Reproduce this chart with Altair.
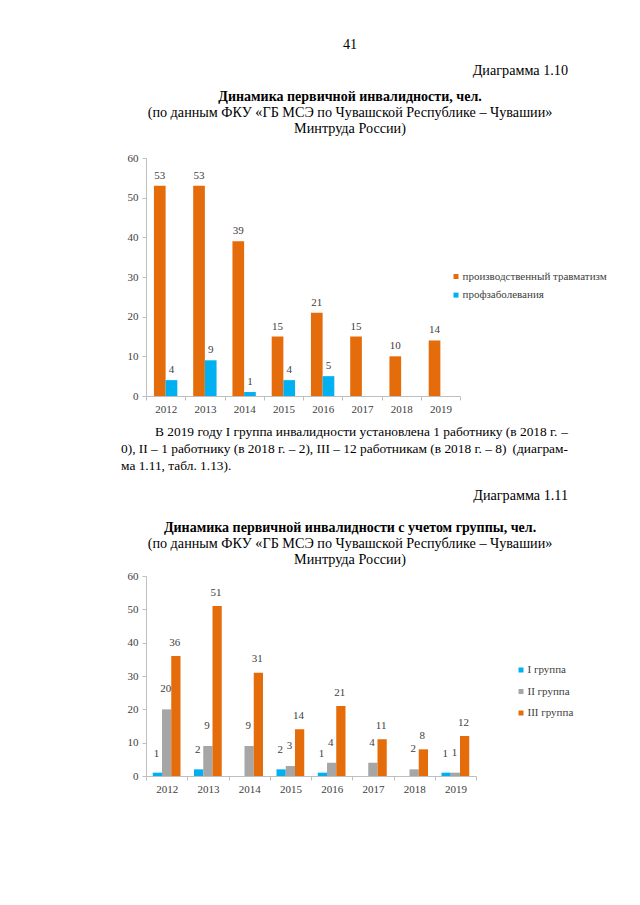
import altair as alt
import pandas as pd

# ---------------- data ----------------
years = ["2012", "2013", "2014", "2015", "2016", "2017", "2018", "2019"]

series1 = ["производственный травматизм", "профзаболевания"]
injury = [53, 53, 39, 15, 21, 15, 10, 14]
occupational = [4, 9, 1, 4, 5, None, None, None]

series2 = ["I группа", "II группа", "III группа"]
group1 = [1, 2, None, 2, 1, None, None, 1]
group2 = [20, 9, 9, 3, 4, 4, 2, 1]
group3 = [36, 51, 31, 14, 21, 11, 8, 12]

y_ticks = [0, 10, 20, 30, 40, 50, 60]

colors1 = ["#E46C0A", "#00B0F0"]
colors2 = ["#00B0F0", "#A6A6A6", "#E46C0A"]

rows1 = []
for yr, a, b in zip(years, injury, occupational):
    rows1.append({"year": yr, "s1": series1[0], "v1": a})
    rows1.append({"year": yr, "s1": series1[1], "v1": b})
df1 = pd.DataFrame(rows1)

rows2 = []
for yr, a, b, c in zip(years, group1, group2, group3):
    rows2.append({"year": yr, "s2": series2[0], "v2": a})
    rows2.append({"year": yr, "s2": series2[1], "v2": b})
    rows2.append({"year": yr, "s2": series2[2], "v2": c})
df2 = pd.DataFrame(rows2)

FONT = "Liberation Serif"
AX = "#BFBFBF"
TXT = "#404040"
PAGE_FS = 14.2
PARA_FS = 13.4


def page_text(s, x, y, bold=False, align="center", size=PAGE_FS):
    return alt.Chart(alt.Data(values=[{}])).mark_text(
        text=s, font=FONT, fontSize=size,
        fontWeight="bold" if bold else "normal",
        align=align, baseline="middle", color="black",
    ).encode(x=alt.value(x), y=alt.value(y))


def x_axis():
    return alt.Axis(labelAngle=0, tickBand="extent", tickSize=4, labelPadding=3,
                    domainColor=AX, tickColor=AX, labelFont=FONT, labelFontSize=11,
                    labelColor=TXT)


def y_axis():
    return alt.Axis(values=y_ticks, grid=False, tickSize=4, labelPadding=4,
                    domainColor=AX, tickColor=AX, labelFont=FONT, labelFontSize=11,
                    labelColor=TXT)


# ---------------- chart 1 ----------------
x1 = alt.X("year:N", sort=years, title=None,
           scale=alt.Scale(paddingInner=0, paddingOuter=0), axis=x_axis())
y1 = alt.Y("v1:Q", title=None, scale=alt.Scale(domain=[0, 60]), axis=y_axis())
xo1 = alt.XOffset("s1:N", sort=series1,
                  scale=alt.Scale(domain=series1, paddingOuter=0.68, paddingInner=0))
c1 = alt.Color("s1:N", sort=series1,
               scale=alt.Scale(domain=series1, range=colors1),
               legend=alt.Legend(title=None, orient="none", legendX=304.5, legendY=113,
                                 symbolType="square", symbolSize=25, symbolStrokeWidth=0,
                                 labelFont=FONT, labelFontSize=11, labelColor=TXT,
                                 rowPadding=6.6, padding=0, labelOffset=1))

base1 = alt.Chart(df1).encode(x=x1, xOffset=xo1, y=y1)
bars1 = base1.mark_bar().encode(color=c1)
labels1 = base1.mark_text(dy=-10, baseline="middle", font=FONT, fontSize=11,
                          color=TXT).encode(text=alt.Text("v1:Q", format="d"))

RIGHT = 422   # right edge of the page text column, relative to plot origin
texts1 = [
    page_text("41", 204, -113),
    page_text("Диаграмма 1.10", RIGHT, -87, align="right"),
    page_text("Динамика первичной инвалидности, чел.", 204, -61, bold=True, size=14),
    page_text("(по данным ФКУ «ГБ МСЭ по Чувашской Республике – Чувашии»", 204, -45),
    page_text("Минтруда России)", 204, -29),
    # justified paragraph: body of each full line left-aligned, last word right-aligned
    page_text("В 2019 году I группа инвалидности установлена 1 работнику (в 2018 г.",
              9, 274, align="left", size=PARA_FS),
    page_text("–", RIGHT, 274, align="right", size=PARA_FS),
    page_text("0), II – 1 работнику (в 2018 г. – 2), III – 12 работникам (в 2018 г. – 8)",
              -25, 291, align="left", size=PARA_FS),
    page_text("(диаграм-", RIGHT, 291, align="right", size=PARA_FS),
    page_text("ма 1.11, табл. 1.13).", -25, 308, align="left", size=PARA_FS),
]

chart1 = alt.layer(bars1, labels1, *texts1).properties(width=314, height=238)

# ---------------- chart 2 ----------------
x2 = alt.X("year:N", sort=years, title=None,
           scale=alt.Scale(paddingInner=0, paddingOuter=0), axis=x_axis())
y2 = alt.Y("v2:Q", title=None, scale=alt.Scale(domain=[0, 60]), axis=y_axis())
xo2 = alt.XOffset("s2:N", sort=series2,
                  scale=alt.Scale(domain=series2, paddingOuter=0.73, paddingInner=0))
c2 = alt.Color("s2:N", sort=series2,
               scale=alt.Scale(domain=series2, range=colors2),
               legend=alt.Legend(title=None, orient="none", legendX=369.5, legendY=88.5,
                                 symbolType="square", symbolSize=25, symbolStrokeWidth=0,
                                 labelFont=FONT, labelFontSize=11, labelColor=TXT,
                                 rowPadding=9.5, padding=0, labelOffset=1))

base2 = alt.Chart(df2).encode(x=x2, xOffset=xo2, y=y2)
bars2 = base2.mark_bar().encode(color=c2)
label_dy = {series2[0]: -19, series2[1]: -20, series2[2]: -13.5}
labels2 = [
    base2.transform_filter(alt.datum.s2 == s).mark_text(
        dy=d, dx=-1, baseline="middle", font=FONT, fontSize=11, color=TXT
    ).encode(text=alt.Text("v2:Q", format="d"))
    for s, d in label_dy.items()
]

texts2 = [
    page_text("Диаграмма 1.11", RIGHT, -80, align="right"),
    page_text("Динамика первичной инвалидности с учетом группы, чел.", 204, -48,
              bold=True, size=14),
    page_text("(по данным ФКУ «ГБ МСЭ по Чувашской Республике – Чувашии»", 204, -32),
    page_text("Минтруда России)", 204, -16),
]

chart2 = alt.layer(bars2, *labels2, *texts2).properties(width=330, height=200)

chart = (
    alt.vconcat(chart1, chart2, spacing=180, bounds="flush")
    .resolve_scale(x="independent", y="independent", color="independent",
                   xOffset="independent")
    .configure(font=FONT)
    .configure_view(stroke=None)
    .properties(padding={"left": 113, "top": 30, "right": 5, "bottom": 5},
                background="white")
)

chart.save("out.html", embed_options={"renderer": "svg", "actions": False})
